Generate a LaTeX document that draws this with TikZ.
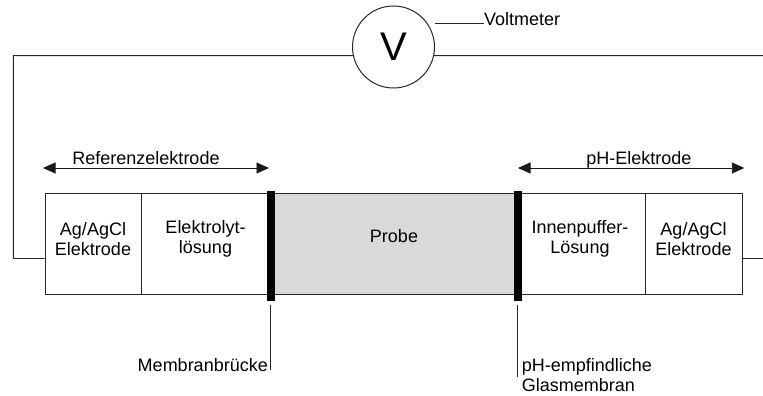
\documentclass[tikz,border=0pt]{standalone}
\usepackage{fontspec}
\setmainfont{Liberation Sans}
\usetikzlibrary{arrows.meta,shapes.geometric}
\begin{document}
\begin{tikzpicture}[x=1pt,y=-1pt,
  wire/.style={line width=0.9pt,draw=black!85},
  cell/.style={draw=black!85,line width=1pt,minimum height=100.7pt,inner sep=0pt,anchor=center},
  bar/.style={fill=black,draw=none,minimum width=8pt,minimum height=110pt,inner sep=0pt},
  lbl/.style={font=\fontsize{18}{20}\selectfont,align=center,inner sep=0pt},
  span/.style={line width=0.9pt,draw=black!90,{Triangle[length=12.5pt,width=11pt]}-{Triangle[length=12.5pt,width=11pt]}},
]
\useasboundingbox (0,0) rectangle (763,396);

% cells
\node[cell,minimum width=96pt] (ag1) at (93,243.7) {};
\node[cell,minimum width=129.5pt] (el) at (205.75,243.7) {};
\node[cell,fill=black!15,minimum width=247.5pt] (pr) at (394.25,243.7) {};
\node[cell,minimum width=127pt] (ip) at (581.5,243.7) {};
\node[cell,minimum width=97pt] (ag2) at (693.5,243.7) {};

% membranes
\node[bar] (mb) at (270.5,245.7) {};
\node[bar] (gm) at (518,245.7) {};

% cell labels
\node[lbl] (t1) at (93,238.8) {Ag/AgCl\\Elektrode};
\node[lbl] (t2) at (205.5,238.8) {Elektrolyt-\\lösung};
\node[lbl] (t3) at (394,236.5) {Probe};
\node[lbl] (t4) at (580,238.8) {Innenpuffer-\\Lösung};
\node[lbl] (t5) at (693.5,238.8) {Ag/AgCl\\Elektrode};

% spans
\coordinate (r1) at (43,168);
\coordinate (r2) at (269,168);
\draw[span] (r1) -- (r2);
\node[lbl,anchor=base] (rl) at (146,164) {Referenzelektrode};
\coordinate (p1) at (518,168);
\coordinate (p2) at (744.3,168);
\draw[span] (p1) -- (p2);
\node[lbl,anchor=base] (pl) at (638.8,164) {pH-Elektrode};

% voltmeter
\node[ellipse,draw=black!85,line width=1pt,minimum width=82pt,minimum height=82pt,inner sep=0pt,
      font=\fontsize{40}{40}\selectfont] (vm) at (393.5,47) {V};
\node[lbl,anchor=base west] (vt) at (484,26) {Voltmeter};
\coordinate (vc) at (0,23.3);
\draw[wire] (vm.east |- vc) -- (vt.west |- vc);

% wires
\coordinate (lc) at (13.3,55.7);
\coordinate (lb) at (13.3,258.5);
\coordinate (rt) at (763,55.7);
\coordinate (rb) at (763,258.5);
\draw[wire] (ag1.west |- lb) -- (lb) -- (lc) -- (vm.192);
\draw[wire] (vm.-12) -- (rt);
\draw[wire] (ag2.east |- rb) -- (rb);

% membrane labels
\coordinate (mbl) at (270.5,370);
\draw[wire] (mb.south) ++(0,4.5) -- (mbl);
\node[lbl,anchor=base east] (mbt) at (268,371.7) {Membranbrücke};
\coordinate (gml) at (517,376.7);
\draw[wire] (gm.south) ++(-1,4.5) -- (gml);
\node[lbl,align=left,anchor=north west] (gmt) at (521.7,358.6) {pH-empfindliche\\Glasmembran};
\end{tikzpicture}
\end{document}
